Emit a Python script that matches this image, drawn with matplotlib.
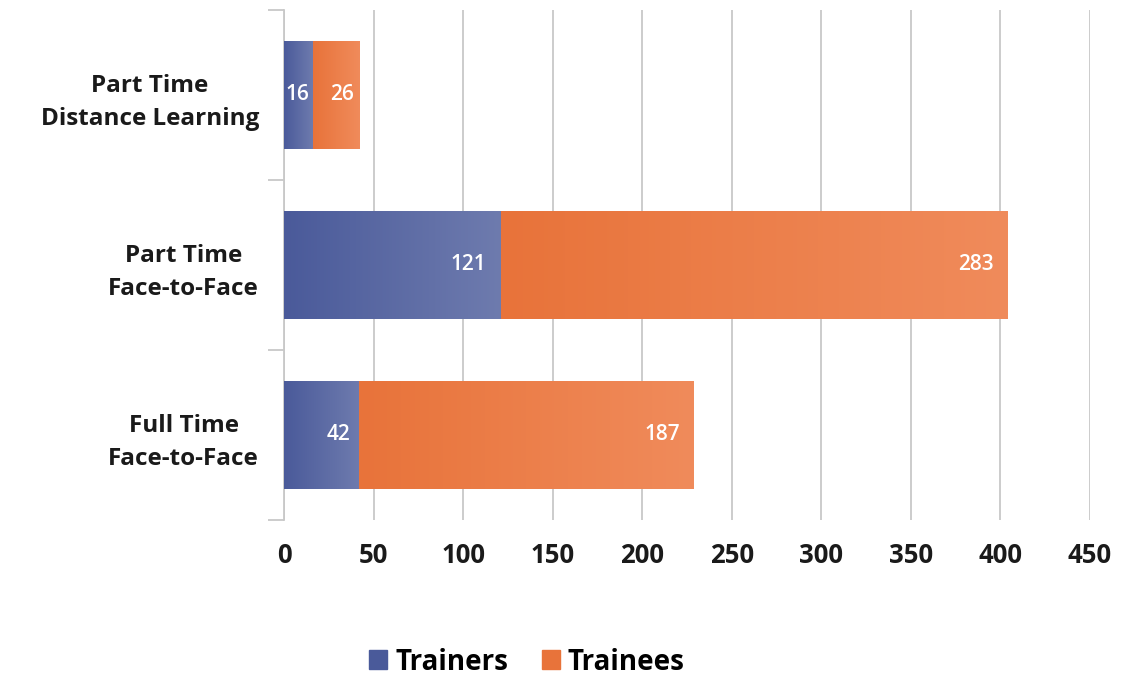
import numpy as np
import matplotlib
matplotlib.use("Agg")
import matplotlib.pyplot as plt
from matplotlib.colors import LinearSegmentedColormap
from matplotlib.patches import Patch

# ---- data ----
categories = ["Full Time\nFace-to-Face", "Part Time\nFace-to-Face", "Part Time\nDistance Learning"]
trainers = [42, 121, 16]
trainees = [187, 283, 26]
xticks = [0, 50, 100, 150, 200, 250, 300, 350, 400, 450]

BLUE_DARK, BLUE_LIGHT = "#4a5a9a", "#6e7bae"
ORANGE_DARK, ORANGE_LIGHT = "#e8733a", "#f08b5b"
GRID = "#c8c8c8"
TEXT = "#1a1a1a"
FONT = "Open Sans"

blue_cmap = LinearSegmentedColormap.from_list("blue_grad", [BLUE_DARK, BLUE_LIGHT])
orange_cmap = LinearSegmentedColormap.from_list("orange_grad", [ORANGE_DARK, ORANGE_LIGHT])

fig = plt.figure(figsize=(11.21, 6.79), dpi=100)
ax = fig.add_axes([284 / 1121, 1 - 520 / 679, (1090 - 284) / 1121, 510 / 679])

bar_h = 0.63
grad = np.linspace(0, 1, 256).reshape(1, -1)


def grad_bar(left, width, y, cmap):
    # horizontal gradient clipped to the bar rectangle
    ax.imshow(grad, extent=[left, left + width, y - bar_h / 2, y + bar_h / 2],
              aspect="auto", cmap=cmap, interpolation="bilinear", zorder=3)


def seg_label(left, width, y):
    pad = min(8, 0.12 * width)
    ax.text(left + width - pad, y, str(width), ha="right", va="center",
            color="white", fontsize=15, fontweight="semibold", family=FONT, zorder=4)


for i, (a, b) in enumerate(zip(trainers, trainees)):
    grad_bar(0, a, i, blue_cmap)
    grad_bar(a, b, i, orange_cmap)
    seg_label(0, a, i)
    seg_label(a, b, i)

ax.set_xlim(0, 450)
ax.set_ylim(-0.5, 2.5)
ax.set_xticks(xticks)
ax.set_xticklabels([str(t) for t in xticks])
ax.set_yticks(range(len(categories)))
ax.set_yticklabels(categories)
ax.set_yticks([-0.5, 0.5, 1.5, 2.5], minor=True)

ax.grid(axis="x", color=GRID, linewidth=1.3, zorder=0)
ax.set_axisbelow(True)
for side in ["top", "right", "bottom"]:
    ax.spines[side].set_visible(False)
ax.spines["left"].set_color(GRID)
ax.spines["left"].set_linewidth(1.3)

ax.tick_params(axis="x", length=0, pad=16, labelsize=18.5, labelcolor=TEXT)
ax.tick_params(axis="y", which="major", length=0, pad=18, labelsize=17.5, labelcolor=TEXT)
ax.tick_params(axis="y", which="minor", length=11.5, width=1.3, color=GRID)
for lbl in ax.get_xticklabels() + ax.get_yticklabels():
    lbl.set_fontfamily(FONT)
    lbl.set_fontweight("bold")
for lbl in ax.get_yticklabels():
    lbl.set_horizontalalignment("right")
    lbl.set_multialignment("center")
    lbl.set_linespacing(1.5)

handles = [Patch(color=BLUE_DARK, label="Trainers"), Patch(color=ORANGE_DARK, label="Trainees")]
fig.legend(handles=handles, loc="center", bbox_to_anchor=(0.47, 0.025), ncol=2, frameon=False,
           prop={"family": FONT, "weight": "bold", "size": 20},
           handlelength=0.65, handleheight=0.65, handletextpad=0.3, columnspacing=1.2)

fig.savefig("out.png", dpi=100)
